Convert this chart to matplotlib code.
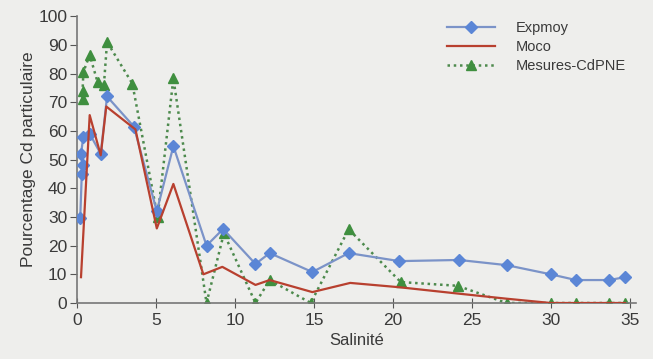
import matplotlib.pyplot as plt

plt.rcParams['font.family'] = ['Liberation Sans Narrow', 'Liberation Sans', 'DejaVu Sans']

# Expmoy
exp_x = [0.2, 0.3, 0.35, 0.25, 0.4, 0.8, 1.5, 1.9, 3.6, 5.05, 6.1, 8.2, 9.25, 11.3, 12.2, 14.9,
         17.2, 20.4, 24.2, 27.2, 30.0, 31.6, 33.7, 34.7]
exp_y = [29.5, 45, 48, 52, 58, 59, 52, 72, 61.5, 32, 54.7, 20, 25.8, 13.6, 17.4, 10.8,
         17.4, 14.6, 15, 13.2, 10, 8, 8, 9]

# Moco
moco_x = [0.25, 0.8, 1.5, 1.85, 3.7, 5.05, 6.1, 8.0, 9.2, 11.3, 12.2, 14.9, 17.3, 20.4, 24.1,
          27.2, 30.0, 31.6, 33.7, 34.7]
moco_y = [9, 65.5, 51.5, 68.5, 60.5, 26, 41.5, 10, 12.6, 6.3, 8, 3.8, 7, 5.5, 3.3,
          1.5, 0, 0, 0, 0]

# Mesures-CdPNE
mes_x = [0.35, 0.35, 0.4, 0.8, 1.3, 1.7, 1.9, 3.5, 5.1, 6.1, 8.2, 9.3, 11.3, 12.2, 14.8,
         17.2, 20.5, 24.1, 27.2, 30.0, 31.6, 33.7, 34.7]
mes_y = [71, 74, 80.5, 86.5, 77, 76, 91, 76.5, 30, 78.3, 0, 24.3, 0, 8, 0,
         25.7, 7.3, 6, 0, 0, 0, 0, 0]

bg = '#eeeeec'
txt = '#3a3a3a'

fig = plt.figure(figsize=(6.53, 3.59), dpi=100, facecolor=bg)
ax = fig.add_axes([0.118, 0.156, 0.856, 0.799], facecolor=bg)

ax.plot(exp_x, exp_y, color='#7b93c8', lw=1.6, marker='D', ms=6.5,
        mfc='#5b86d6', mec='#5b86d6', label='Expmoy', zorder=3)
ax.plot(moco_x, moco_y, color='#b8402f', lw=1.6, label='Moco', zorder=4)
ax.plot(mes_x, mes_y, color='#4d8a4d', lw=1.8, ls=(0, (1, 1.5)), marker='^', ms=7.5,
        mfc='#3f8f3f', mec='#3f8f3f', label='Mesures-CdPNE', zorder=2)

ax.set_xlim(0, 35.4)
ax.set_ylim(0, 100)
ax.set_xticks(range(0, 36, 5))
ax.set_yticks(range(0, 101, 10))

for s in ['top', 'right']:
    ax.spines[s].set_visible(False)
for s in ['left', 'bottom']:
    ax.spines[s].set_color('#777777')
    ax.spines[s].set_linewidth(1.2)

ax.tick_params(axis='x', direction='inout', length=7, color='#555555', labelsize=12.5,
               labelcolor=txt, pad=4)
ax.tick_params(axis='y', direction='out', length=5, color='#555555', labelsize=12.5,
               labelcolor=txt, pad=2)

ax.set_xlabel('Salinité', fontsize=12, color=txt, labelpad=3)
ax.set_ylabel('Pourcentage Cd particulaire', fontsize=12.5, color=txt, labelpad=2)

leg = ax.legend(loc='upper right', bbox_to_anchor=(1.005, 1.03), frameon=False,
                fontsize=10.5, handlelength=3.3, labelspacing=0.35, handletextpad=1.4)
for t in leg.get_texts():
    t.set_color(txt)

fig.savefig('out.png', dpi=100, facecolor=bg)
